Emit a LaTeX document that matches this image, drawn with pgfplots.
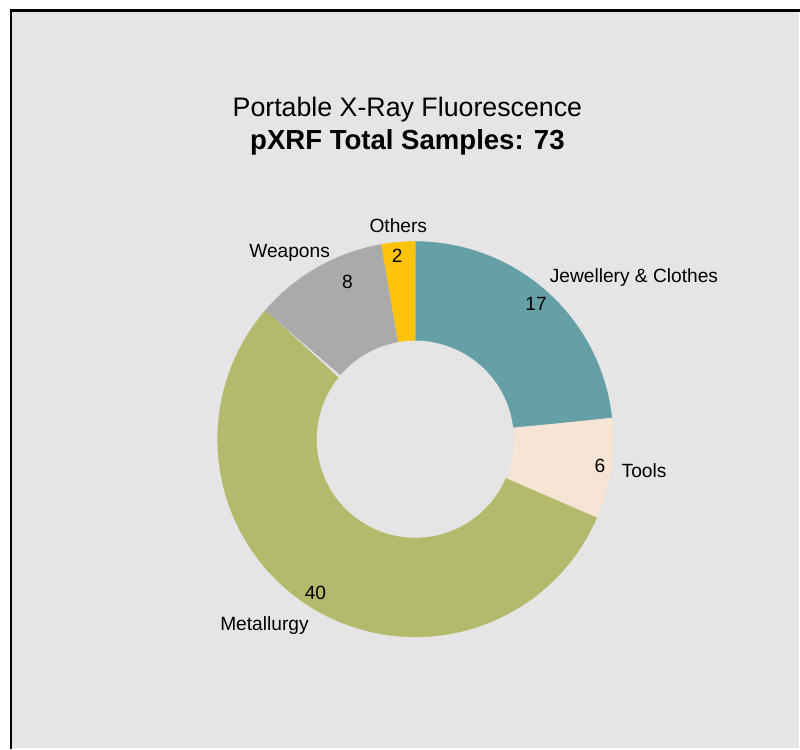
\documentclass[border=0pt]{standalone}
\usepackage{pgfplots}
\pgfplotsset{compat=1.18}
\usepackage{fontspec}
\setmainfont{Liberation Sans}
\definecolor{bg}{HTML}{E5E5E5}
\definecolor{cjew}{HTML}{64A0A5}
\definecolor{ctool}{HTML}{F6E4D4}
\definecolor{cmet}{HTML}{B4BA6B}
\definecolor{cweap}{HTML}{AAAAAA}
\definecolor{coth}{HTML}{FFC30B}
\def\total{73}
% #1 = cumulative start, #2 = value, #3 = colour
\newcommand{\slice}[3]{%
  \addplot[fill=#3, draw=#3, line width=0.2pt, domain=0:2, samples=201, variable=\t]
  ({ifthenelse(\t<=1, cos(90-360*(#1+#2*\t)/\total), 0.5*cos(90-360*(#1+#2*(2-\t))/\total))},
   {ifthenelse(\t<=1, sin(90-360*(#1+#2*\t)/\total), 0.5*sin(90-360*(#1+#2*(2-\t))/\total))}) -- cycle;
}
\begin{document}
\begin{tikzpicture}
\begin{axis}[
  x=99pt, y=99pt,
  xmin=-2.101, xmax=1.939, ymin=-1.561, ymax=2.222,
  hide axis, clip=false,
]
\fill[white] (axis cs:-2.101,-1.561) rectangle (axis cs:1.939,2.222);
\fill[bg] (axis cs:-2.045,-1.561) rectangle (axis cs:1.939,2.167);
\draw[line width=1.4pt, line cap=rect] (axis cs:-2.045,-1.561) -- (axis cs:-2.045,2.167) -- (axis cs:1.939,2.167);

\slice{0}{17}{cjew}
\slice{17}{6}{ctool}
\slice{23}{40}{cmet}
\slice{63}{8}{cweap}
\slice{71}{2}{coth}

\node[font=\fontsize{13.4}{15}\selectfont] at (axis cs:-0.040,1.667) {Portable X-Ray Fluorescence};
\node[font=\fontsize{13.8}{15}\selectfont\bfseries] at (axis cs:-0.040,1.500) {pXRF Total Samples: 73};

\begin{scope}[every node/.style={font=\fontsize{9.6}{11}\selectfont}]
\node at (axis cs:0.611,0.687) {17};
\node at (axis cs:1.106,0.818) {Jewellery \& Clothes};
\node at (axis cs:0.934,-0.136) {6};
\node at (axis cs:1.157,-0.157) {Tools};
\node at (axis cs:-0.505,-0.778) {40};
\node at (axis cs:-0.763,-0.944) {Metallurgy};
\node at (axis cs:-0.343,0.798) {8};
\node at (axis cs:-0.636,0.944) {Weapons};
\node at (axis cs:-0.091,0.929) {2};
\node at (axis cs:-0.086,1.081) {Others};
\end{scope}
\end{axis}
\end{tikzpicture}
\end{document}
